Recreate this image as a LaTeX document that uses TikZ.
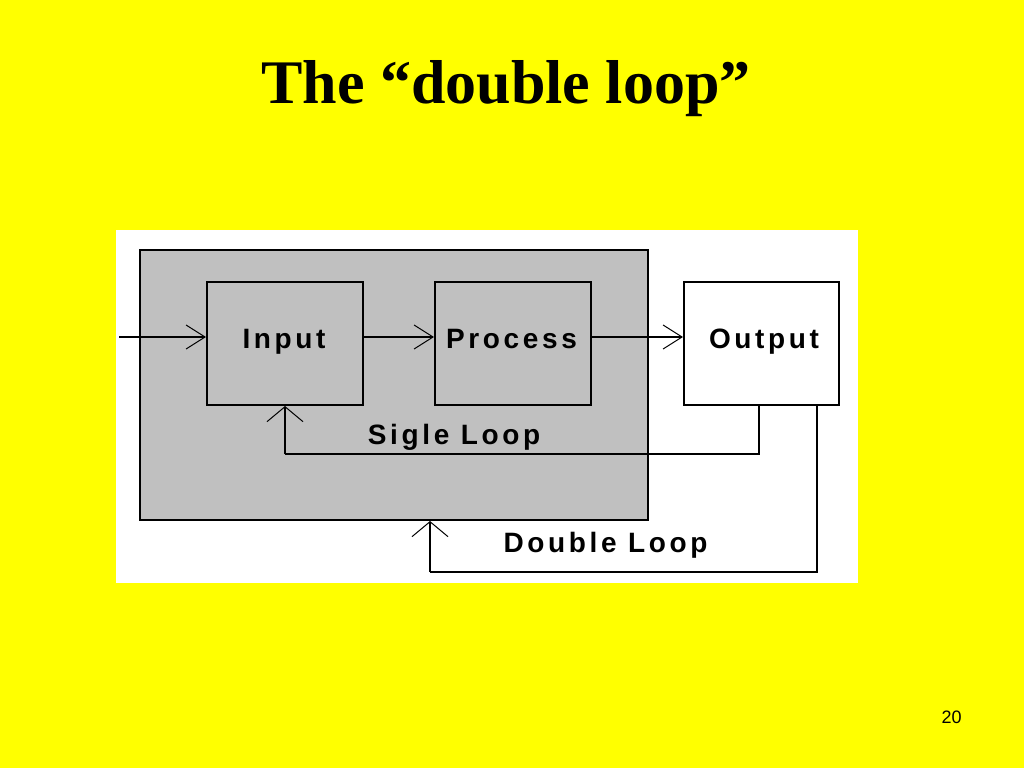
\documentclass[tikz,border=0pt]{standalone}
\usepackage{fontspec}
\setmainfont{Liberation Serif}
\newfontfamily\diafont[LetterSpace=13]{Liberation Sans}
\newfontfamily\numfont{Liberation Sans}
\usetikzlibrary{arrows.meta}
\definecolor{slideyellow}{RGB}{255,255,0}
\definecolor{panelgray}{RGB}{192,192,192}
\begin{document}
\begin{tikzpicture}[x=1pt,y=-1pt,
  box/.style={draw=black,line width=2pt,fill=panelgray,minimum width=156pt,minimum height=123pt,inner sep=0pt},
  lbl/.style={font=\diafont\bfseries\fontsize{28}{30}\selectfont,inner sep=0pt,anchor=base},
  harr/.style={line width=1.8pt,-{Straight Barb[length=19pt,width=24pt,line width=1pt]}},
  varr/.style={line width=1.8pt,-{Straight Barb[length=15pt,width=36pt,line width=1pt]}},
  conn/.style={line width=2pt}]
\useasboundingbox (0,0) rectangle (1024,768);
\fill[slideyellow] (0,0) rectangle (1024,768);
\fill[white] (116,230) rectangle (858,583);
\node[draw=black,line width=2pt,fill=panelgray,minimum width=508pt,minimum height=270pt,inner sep=0pt] (gray) at (394,385) {};
\node[box] (in) at (285,343.5) {};
\node[box] (pr) at (513,343.5) {};
\node[box,fill=white,minimum width=155pt] (out) at (761.5,343.5) {};
\node[lbl] (tin) at (284,348) {Input};
\node[lbl] (tpr) at (511.5,348) {Process};
\node[lbl] (tout) at (764,348) {Output};
\node[lbl] (tsl) at (454,444) {Sigle Loop};
\node[lbl] (tdl) at (605.5,552) {Double Loop};
\coordinate (start) at (119,337);
\draw[harr] (start) -- (start -| in.west);
\draw[harr] (in.east |- start) -- (pr.west |- start);
\draw[harr] (pr.east |- start) -- (out.west |- start);
\draw[conn] ([xshift=-2.5pt]out.south) |- (285,454) coordinate (sl);
\draw[varr] (sl) -- (in.south);
\draw[conn] ([xshift=55.5pt]out.south) |- (430,572) coordinate (dl);
\draw[varr] (dl) -- (dl |- gray.south);
\node[font=\bfseries\fontsize{62}{64}\selectfont,anchor=base,inner sep=0pt] (title) at (506,103) {The “double loop”};
\node[font=\numfont\fontsize{18}{20}\selectfont,anchor=base,inner sep=0pt] (num) at (951.5,723) {20};
\end{tikzpicture}
\end{document}
